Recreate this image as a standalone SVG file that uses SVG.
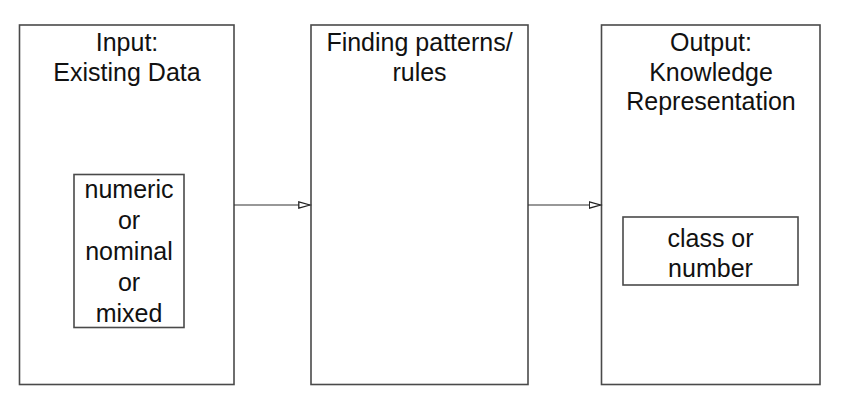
<svg xmlns="http://www.w3.org/2000/svg" width="850" height="415" viewBox="0 0 850 415">
<style>
.box{fill:#fff;stroke:#4a4a4a;stroke-width:1.6}
.t{font-family:"Liberation Sans",Arial,sans-serif;font-size:25px;fill:#111;text-anchor:middle}
.conn{stroke:#333;stroke-width:1.2;fill:none}
</style>
<defs>
<marker id="arr" markerUnits="userSpaceOnUse" markerWidth="14" markerHeight="10" refX="12" refY="4" orient="auto">
<path d="M0.8,0.8 L12,4 L0.8,7.2 Z" fill="#fff" stroke="#222" stroke-width="1.3"/>
</marker>
</defs>
<rect width="850" height="415" fill="#fff"/>
<g id="input">
<rect class="box" x="19.5" y="25" width="214.5" height="359.5"/>
<text class="t" x="127" y="51">Input:</text>
<text class="t" x="127" y="80.5">Existing Data</text>
</g>
<g id="input-types">
<rect class="box" x="74" y="174.5" width="110" height="153"/>
<text class="t" x="129" y="198">numeric</text>
<text class="t" x="129" y="229">or</text>
<text class="t" x="129" y="260">nominal</text>
<text class="t" x="129" y="291">or</text>
<text class="t" x="129" y="321.5">mixed</text>
</g>
<g id="finding">
<rect class="box" x="311" y="25" width="217" height="359.5"/>
<text class="t" x="419.5" y="51">Finding patterns/</text>
<text class="t" x="419.5" y="80.5">rules</text>
</g>
<g id="output">
<rect class="box" x="601.5" y="25" width="218.5" height="359.5"/>
<text class="t" x="711" y="51">Output:</text>
<text class="t" x="711" y="80.5">Knowledge</text>
<text class="t" x="711" y="110">Representation</text>
</g>
<g id="output-type">
<rect class="box" x="623" y="217" width="175" height="68"/>
<text class="t" x="710.5" y="247">class or</text>
<text class="t" x="710.5" y="277">number</text>
</g>
<g id="connectors">
<line class="conn" x1="234" y1="205" x2="310" y2="205" marker-end="url(#arr)"/>
<line class="conn" x1="528" y1="205" x2="600.5" y2="205" marker-end="url(#arr)"/>
</g>
</svg>
